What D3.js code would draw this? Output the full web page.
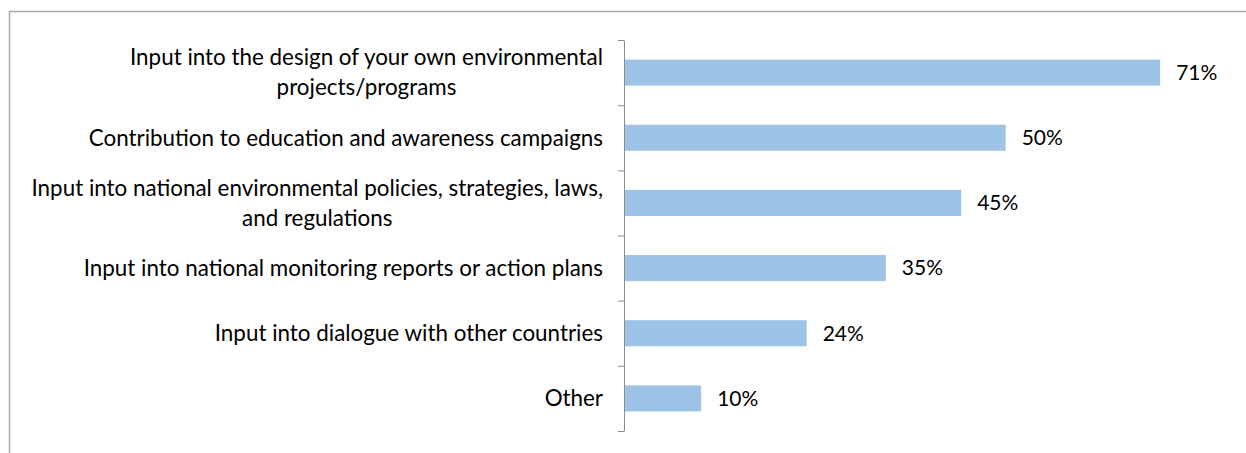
<!DOCTYPE html>
<html>
<head>
<meta charset="utf-8">
<script src="https://cdn.jsdelivr.net/npm/d3@7"></script>
<style>
  body { margin: 0; background: #fff; }
  svg text { font-family: Lato, "Open Sans", sans-serif; fill: #000; }
</style>
</head>
<body>
<script>
// chart values (bar lengths, labels as printed)
var categories = [
    ["Input into the design of your own environmental", "projects/programs"],
    ["Contribution to education and awareness campaigns"],
    ["Input into national environmental policies, strategies, laws,", "and regulations"],
    ["Input into national monitoring reports or action plans"],
    ["Input into dialogue with other countries"],
    ["Other"]
];
var values = [0.71, 0.505, 0.446, 0.346, 0.241, 0.101];
var valueLabels = ["71%", "50%", "45%", "35%", "24%", "10%"];

var w = 1246, h = 453;
var plotLeft = 625, plotTop = 40, plotBottom = 431;

var svg = d3.select("body").append("svg")
    .attr("width", w)
    .attr("height", h);

// outer frame (only top and left are visible in the shot)
svg.append("path")
    .attr("d", "M9.5," + h + "V11.5H" + w)
    .attr("fill", "none")
    .attr("stroke", "#ababab")
    .attr("stroke-width", 1.5);

var x = d3.scaleLinear().domain([0, 0.8]).range([plotLeft, plotLeft + 603]);
var y = d3.scaleBand()
    .domain(d3.range(categories.length))
    .range([plotTop, plotBottom])
    .paddingInner(0.6)
    .paddingOuter(0.3);

// bars
svg.selectAll("rect.bar")
    .data(values)
    .enter()
    .append("rect")
    .attr("class", "bar")
    .attr("x", x(0))
    .attr("y", function(d, i) { return y(i); })
    .attr("width", function(d) { return x(d) - x(0); })
    .attr("height", y.bandwidth())
    .attr("fill", "#9dc3e6");

// axis with ticks between categories
var yEdge = d3.scaleLinear().domain([0, categories.length]).range([plotTop, plotBottom]);
var axis = svg.append("g")
    .attr("transform", "translate(" + (plotLeft - 1) + ",0)")
    .call(d3.axisLeft(yEdge).tickValues(d3.range(categories.length + 1)).tickSize(6).tickSizeOuter(0).tickFormat(""));
axis.selectAll("path, line").attr("stroke", "#8c8c8c");

// value labels
svg.selectAll("text.val")
    .data(values)
    .enter()
    .append("text")
    .attr("class", "val")
    .attr("x", function(d) { return x(d) + 16; })
    .attr("y", function(d, i) { return y(i) + y.bandwidth() / 2; })
    .attr("dy", "0.35em")
    .attr("font-size", "21px")
    .text(function(d, i) { return valueLabels[i]; });

// category labels, wrapped ones centred in their block
var labelRight = 603;
var lineGap = 30;
categories.forEach(function(lines, i) {
    var cy = y(i) + y.bandwidth() / 2;
    var g = svg.append("g");
    var texts = g.selectAll("text")
        .data(lines)
        .enter()
        .append("text")
        .attr("font-size", "22.4px")
        .attr("dy", "0.35em")
        .attr("y", function(d, j) { return cy + (j - (lines.length - 1) / 2) * lineGap; })
        .text(function(d) { return d; });
    if (lines.length === 1) {
        texts.attr("x", labelRight).attr("text-anchor", "end");
    } else {
        var maxW = 0;
        texts.each(function() { maxW = Math.max(maxW, this.getComputedTextLength()); });
        texts.attr("x", labelRight - maxW / 2).attr("text-anchor", "middle");
    }
});
</script>
</body>
</html>
